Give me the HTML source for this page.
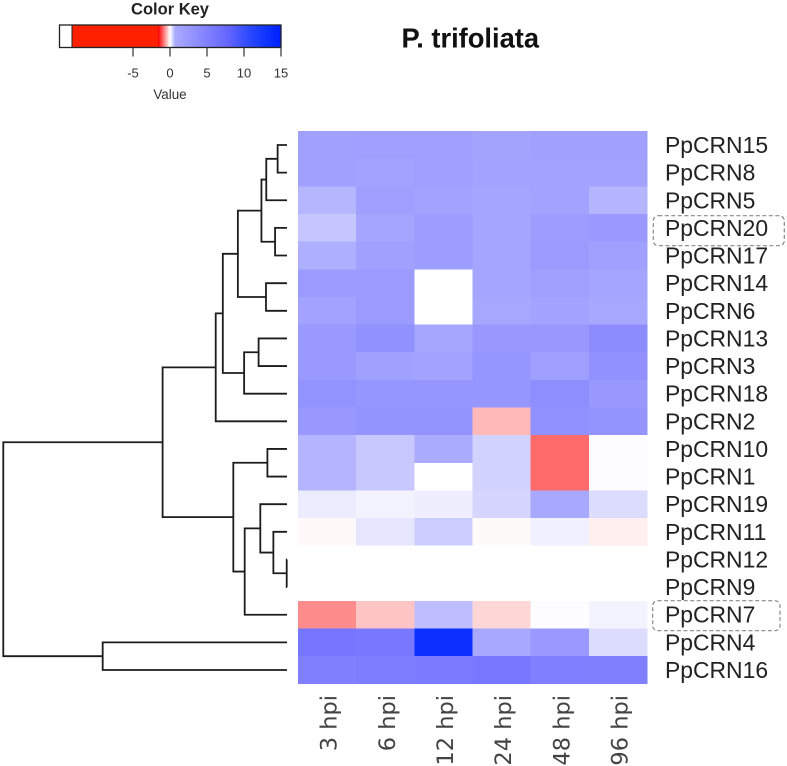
<!DOCTYPE html>
<html>
<head>
<meta charset="utf-8">
<title>P. trifoliata heatmap</title>
<style>
html,body{margin:0;padding:0;background:#fff;}
svg{display:block;}
text{font-family:"Liberation Sans",sans-serif;}
</style>
</head>
<body>
<svg id="chart" xmlns="http://www.w3.org/2000/svg" width="787" height="766" viewBox="0 0 787 766">
  <text x="401.5" y="47.5" font-size="27.3" font-weight="bold" fill="#111">P. trifoliata</text>
  <text x="170" y="14.5" font-size="16.5" font-weight="bold" text-anchor="middle" fill="#222">Color Key</text>
  <text x="170" y="99" font-size="13.4" text-anchor="middle" fill="#333">Value</text>
  <g id="key"></g>
  <g id="dendrogram"></g>
  <g id="cells" shape-rendering="crispEdges"></g>
  <g id="rows"></g>
  <g id="cols"></g>
  <rect x="653.3" y="215.7" width="131" height="30" rx="5" fill="none" stroke="#888" stroke-width="1.2" stroke-dasharray="4 2.5"/>
  <rect x="652.7" y="600.7" width="127.3" height="30" rx="5" fill="none" stroke="#888" stroke-width="1.2" stroke-dasharray="4 2.5"/>
</svg>
<script>
const columnLabels = ["3 hpi","6 hpi","12 hpi","24 hpi","48 hpi","96 hpi"];
const rowLabels = ["PpCRN15","PpCRN8","PpCRN5","PpCRN20","PpCRN17","PpCRN14","PpCRN6","PpCRN13","PpCRN3","PpCRN18","PpCRN2","PpCRN10","PpCRN1","PpCRN19","PpCRN11","PpCRN12","PpCRN9","PpCRN7","PpCRN4","PpCRN16"];
const rowValues = [
  [1.74,1.84,1.84,1.33,1.74,1.74],
  [1.74,1.43,1.84,1.53,1.53,1.43],
  [0.60,1.84,1.43,1.22,1.53,0.62],
  [0.47,1.22,2.05,1.22,2.05,2.46],
  [0.66,1.74,2.05,1.22,2.25,1.74],
  [2.25,2.25,0,1.22,1.74,1.22],
  [1.43,2.25,0,1.01,1.43,1.01],
  [2.46,3.29,1.11,2.56,2.56,3.8],
  [2.46,1.74,1.43,2.77,1.84,3.29],
  [3.08,2.77,2.77,2.77,3.6,2.56],
  [2.56,2.98,2.98,-0.44,3.3,3.0],
  [0.62,0.45,0.7,0.37,-0.93,0.02],
  [0.62,0.45,0,0.37,-0.93,0.02],
  [0.16,0.10,0.14,0.35,0.91,0.29],
  [-0.04,0.21,0.42,-0.03,0.12,-0.1],
  [0,0,0,0,0,0],
  [0,0,0,0,0,0],
  [-0.72,-0.37,0.54,-0.26,0.02,0.10],
  [6.19,5.88,13.34,0.91,2.46,0.29],
  [5.05,5.36,5.6,5.88,5.15,5.05]
];
const keyTicks = [-5,0,5,10,15];
// nested clusters: [merge height, branch, branch]; a branch is a row label or another cluster
const clusterTree = [99.9,
  [43.8,
    [25.1,
      [22.6,
        [17.3,
          [9.0,
            [7.3,[3.3,"PpCRN15","PpCRN8"],"PpCRN5"],
            [4.2,"PpCRN20","PpCRN17"]],
          [7.4,"PpCRN14","PpCRN6"]],
        [15.1,[10.0,"PpCRN13","PpCRN3"],"PpCRN18"]],
      "PpCRN2"],
    [18.9,
      [6.9,"PpCRN10","PpCRN1"],
      [14.9,
        [9.4,"PpCRN19",[4.8,"PpCRN11",[0.1,"PpCRN12","PpCRN9"]]],
        "PpCRN7"]]],
  [64.9,"PpCRN4","PpCRN16"]];

const NS = "http://www.w3.org/2000/svg";
function make(parent, tag, attrs, text) {
  const el = document.createElementNS(NS, tag);
  for (const k in attrs) el.setAttribute(k, attrs[k]);
  if (text !== undefined) el.textContent = text;
  parent.appendChild(el);
  return el;
}

// heatmap axes
const heatLeft = 298, heatRight = 647, heatTop = 131.2, heatBottom = 683.8;
const colW = (heatRight - heatLeft) / columnLabels.length;
const rowH = (heatBottom - heatTop) / rowLabels.length;
const xCol = i => heatLeft + i * colW;
const yRow = i => heatTop + i * rowH;
const xHeight = h => 287 - h * 2.84;
const xKey = v => 170 + v * 7.4;

// colour scale
function colorOf(v) {
  if (v < 0) {
    if (v <= -1.6) return "rgb(255,32,0)";
    const c = Math.round(255 * (1 + v / 1.6));
    return "rgb(255," + c + "," + c + ")";
  }
  let g;
  if (v <= 0.7) g = 255 - (v / 0.7) * 85;
  else g = 170 - ((Math.min(v, 15) - 0.7) / 14.3) * 138;
  g = Math.round(g);
  const r = v > 8 ? Math.round(g * (1 - (Math.min(v, 15) - 8) / 7)) : g;
  return "rgb(" + r + "," + g + ",255)";
}

// cells
const cellsG = document.getElementById("cells");
rowValues.forEach((vals, r) => {
  vals.forEach((v, c) => {
    const cell = make(cellsG, "rect", {x: xCol(c), y: yRow(r), width: colW + 0.4, height: rowH + 0.4, fill: colorOf(v)});
    
    
  });
});

// row labels
const rowsG = document.getElementById("rows");
rowLabels.forEach((label, r) => {
  const t = make(rowsG, "text", {x: 665, y: yRow(r) + rowH / 2 + 8, "font-size": 22.9, fill: "#222"}, label);
  
  
});

// column labels
const colsG = document.getElementById("cols");
columnLabels.forEach((label, c) => {
  const x = xCol(c) + colW / 2 + 9.5;
  const t = make(colsG, "text", {x: x, y: 695, "font-size": 22.5, fill: "#444", "text-anchor": "end", transform: "rotate(-90 " + x + " 695)", style: 'font-family:"DejaVu Sans",sans-serif'}, label);
  
  
});

// dendrogram
const dendroG = document.getElementById("dendrogram");
function drawNode(node) {
  if (typeof node === "string") {
    return {x: xHeight(0), y: yRow(rowLabels.indexOf(node)) + rowH / 2};
  }
  const a = drawNode(node[1]);
  const b = drawNode(node[2]);
  const x = xHeight(node[0]);
  const d = "M" + a.x + " " + a.y + "H" + x + "V" + b.y + "H" + b.x;
  const p = make(dendroG, "path", {d: d, fill: "none", stroke: "#1c1c1c", "stroke-width": 1.8});
  
  
  return {x: x, y: (a.y + b.y) / 2};
}
drawNode(clusterTree);

// colour key
const keyG = document.getElementById("key");
const keyTop = 25, keyBottom = 47.5;
for (let px = 72; px < 281; px += 1) {
  const v = (px + 0.5 - 170) / 7.4;
  const s = make(keyG, "rect", {x: px, y: keyTop, width: 1.3, height: keyBottom - keyTop, fill: colorOf(v), "shape-rendering": "crispEdges"});
  
  
}
const frame = make(keyG, "rect", {x: 59.5, y: keyTop, width: 221.5, height: keyBottom - keyTop, fill: "none", stroke: "#222", "stroke-width": 1.3});


const divider = make(keyG, "line", {x1: 72, x2: 72, y1: keyTop, y2: keyBottom, stroke: "#222", "stroke-width": 1});


keyTicks.forEach(v => {
  const tick = make(keyG, "line", {x1: xKey(v), x2: xKey(v), y1: keyBottom, y2: 56.5, stroke: "#333", "stroke-width": 1.2});
  
  
  const lab = make(keyG, "text", {x: xKey(v), y: 77.5, "font-size": 13, "text-anchor": "middle", fill: "#333"}, String(v));
  
  
});
</script>
</body>
</html>
